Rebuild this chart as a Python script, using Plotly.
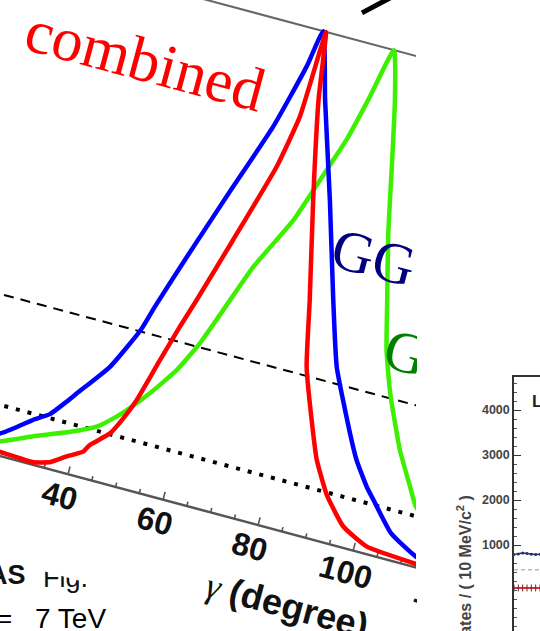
import numpy as np
import plotly.graph_objects as go

W, H = 540, 631

# ---------------- data: 1-CL scans vs gamma (degree) ----------------
gamma_blue = [18, 24.5, 30.3, 33.3, 35.9, 37.5, 42.6, 46.7, 48.3, 51.9, 57.3, 62.0, 65.4, 66.8,
              70.8, 77.0, 82.9, 87.1, 93.2, 95.9, 99.3, 101.3, 106.5, 112.7, 120, 135]
cl_blue = [0.030, 0.044, 0.088, 0.108, 0.141, 0.163, 0.232, 0.320, 0.375, 0.487, 0.649, 0.787, 0.922, 1.0,
           0.866, 0.673, 0.480, 0.351, 0.228, 0.179, 0.132, 0.110, 0.054, 0.021, 0.010, 0.005]

gamma_red = [18, 25.5, 29.5, 32.5, 36.0, 38.8, 41.8, 42.7, 46.1, 48.0, 49.6, 52.05, 54.2, 56.1, 60.1,
             64.8, 66.7, 67.2, 67.4, 69.5, 73.7, 78.3, 81.2, 86.0, 88.1, 91.9, 96.8, 102.5, 113.0, 125]
cl_red = [0.012, 0.008, 0.006, 0.005, 0.015, 0.034, 0.052, 0.068, 0.102, 0.140, 0.181, 0.271, 0.347, 0.408, 0.545,
          0.711, 0.820, 0.961, 1.0, 0.863, 0.665, 0.467, 0.335, 0.208, 0.158, 0.095, 0.042, 0.015, 0.007, 0.003]

gamma_green = [18, 24.9, 31.2, 38.2, 43.4, 46.5, 48.2, 51.8, 55.9, 59.0, 61.4, 65.5, 70.9, 74.0, 77.1, 79.4,
               81.7, 84.5, 87.4, 90.2, 93.5, 96.0, 99.0, 103.9, 107.8, 110.0, 115, 120, 130]
cl_green = [0.022, 0.029, 0.056, 0.084, 0.110, 0.138, 0.156, 0.201, 0.261, 0.325, 0.390, 0.503, 0.615, 0.707,
            0.800, 0.896, 1.0, 0.903, 0.771, 0.639, 0.508, 0.410, 0.327, 0.221, 0.155, 0.119, 0.080, 0.055, 0.030]

cl_1sigma = 0.317      # dashed reference line
cl_dotted = 0.10       # dotted reference line
gamma_span = [-20, 150]

major_ticks = [20, 40, 60, 80, 100, 120, 140]
minor_ticks = [g for g in range(5, 145, 5) if g % 20 != 0]
tick_labels = ["40", "60", "80", "100"]

arrow_g = [73.45, 78.5]     # fragment of a thick arrow above the frame
arrow_v = [1.056, 1.103]

# ---------------- data: right panel (mass fit fragment) ----------------
mass = [5000, 5005, 5010, 5015, 5020, 5025, 5030]
cand_data = [790, 800, 820, 810, 795, 790, 795]
cand_comb = [450, 450, 455, 450, 448, 450, 452]
cand_red = [45, 45, 46, 45, 45, 46, 45]
panel_ticks = [1000, 2000, 3000, 4000]

# ---------------- rotated frame geometry ----------------
THETA = np.deg2rad(15.0)
C, S = np.cos(THETA), np.sin(THETA)
ORX, ORY = 68.0, 474.2        # screen pixel of (gamma=40, 1-CL=0)
PX_DEG = 4.92
PX_UNIT = 494.0
CLIP_X = 416.0


def to_screen(g, v):
    g = np.asarray(g, dtype=float)
    v = np.asarray(v, dtype=float)
    a = (g - 40.0) * PX_DEG
    h = v * PX_UNIT
    return ORX + a * C + h * S, ORY + a * S - h * C


fig = go.Figure()


def add_line(g, v, color, width, dash=None, shape="linear"):
    X, Y = to_screen(g, v)
    fig.add_trace(go.Scatter(x=X, y=Y, mode="lines", xaxis="x", yaxis="y",
                             line=dict(color=color, width=width, dash=dash, shape=shape,
                                       smoothing=0.45 if shape == "spline" else None),
                             hoverinfo="skip", showlegend=False))


# frame lines
add_line(gamma_span, [0, 0], "#555555", 2.5)
add_line(gamma_span, [1.0, 1.0], "#666666", 2.0)

# tick marks (pointing into the frame)
def tick_trace(vals, length):
    xs, ys = [], []
    for g in vals:
        X, Y = to_screen([g, g], [0, length / PX_UNIT])
        xs += list(X) + [None]
        ys += list(Y) + [None]
    fig.add_trace(go.Scatter(x=xs, y=ys, mode="lines", xaxis="x", yaxis="y",
                             line=dict(color="#555555", width=1.6),
                             hoverinfo="skip", showlegend=False))

tick_trace(major_ticks, 8)
tick_trace(minor_ticks, 4.5)

# reference lines
add_line(gamma_span, [cl_1sigma] * 2, "black", 2, dash="10px,7px")
add_line(gamma_span, [cl_dotted] * 2, "black", 4, dash="4px,8px")

# curves
add_line(gamma_green, cl_green, "#3cf000", 4.5, shape="spline")
add_line(gamma_blue, cl_blue, "#0000ff", 4.5, shape="spline")
add_line(gamma_red, cl_red, "#ff0000", 4.5, shape="spline")

# arrow fragment
add_line(arrow_g, arrow_v, "black", 5)

# right panel traces
fig.add_trace(go.Scatter(x=mass, y=cand_comb, mode="lines", xaxis="x2", yaxis="y2",
                         line=dict(color="#cdb99a", width=1.5, dash="4px,3px"),
                         hoverinfo="skip", showlegend=False))
fig.add_trace(go.Scatter(x=mass, y=cand_red, mode="lines+markers", xaxis="x2", yaxis="y2",
                         line=dict(color="#c02020", width=1.8),
                         marker=dict(symbol="line-ns", size=5, line=dict(color="#802020", width=1)),
                         hoverinfo="skip", showlegend=False))
fig.add_trace(go.Scatter(x=mass, y=cand_data, mode="lines+markers", xaxis="x2", yaxis="y2",
                         line=dict(color="#26306e", width=1.5),
                         marker=dict(color="#26306e", size=3),
                         hoverinfo="skip", showlegend=False))


# ---------------- annotations ----------------
def ann(X, Y, text, size, color="#111111", family="Liberation Sans", angle=0,
        xanchor="center", yanchor="middle", **kw):
    d = dict(xref="paper", yref="paper", x=float(X) / W, y=1 - float(Y) / H, text=text,
             showarrow=False, textangle=angle, xanchor=xanchor, yanchor=yanchor,
             font=dict(size=size, color=color, family=family))
    d.update(kw)
    return d


def mask(X0, Y0, w, h, angle=0, xanchor="left", yanchor="top"):
    return dict(xref="paper", yref="paper", x=X0 / W, y=1 - Y0 / H, text="\u00a0",
                showarrow=False, width=w, height=h, bgcolor="#ffffff", borderpad=0,
                borderwidth=0, textangle=angle, xanchor=xanchor, yanchor=yanchor,
                font=dict(size=4))


annotations = []
# tick labels
for lab in tick_labels:
    X, Y = to_screen(float(lab) - 0.4, -0.046)
    annotations.append(ann(X, Y, "<b>%s</b>" % lab, 32, angle=15))
X1, Y1 = to_screen(116.0, -0.046)
annotations.append(ann(X1, Y1, "<b>1</b>", 32, angle=15))

# axis title
XT, YT = to_screen(90.0, -0.142)
annotations.append(ann(XT, YT,
                       '<span style="font-family:Liberation Serif"><i>γ</i></span> <b>(degree)</b>',
                       36, angle=15))

# curve labels
annotations.append(ann(145, 60, "combined", 62, color="#ff0000", family="Liberation Serif", angle=15))
annotations.append(ann(374, 257, "GG", 58, color="#00007f", family="Liberation Serif", angle=15))
annotations.append(ann(406, 352, "G", 58, color="#007f00", family="Liberation Serif", angle=15))

# slide text behind the picture
annotations.append(ann(28, 575, "<b>AS</b>", 27, xanchor="right"))
annotations.append(ann(41, 578, "Fig.", 27, xanchor="left"))
annotations.append(ann(14, 618, "=", 26, xanchor="right", color="#000000"))
annotations.append(ann(108, 618, "7 TeV", 28, xanchor="right", color="#000000"))

# white masks: edge of the rotated picture
annotations.append(mask(CLIP_X + 0.5, 0, W - CLIP_X, 370))
annotations.append(mask(CLIP_X + 0.5, 370, 452 - CLIP_X, H - 370))
annotations.append(mask(93, 571.5, 120, 24, angle=15, xanchor="center", yanchor="middle"))

# right panel texts
annotations.append(ann(464, 493, "<b>Candidates / ( 10 MeV/c<sup>2</sup> )</b>", 16,
                       color="#444444", angle=-90, yanchor="top"))
annotations.append(ann(530, 401, "<b>LHCb</b>", 17, color="#222222", xanchor="left"))

fig.update_layout(
    width=W, height=H, margin=dict(l=0, r=0, t=0, b=0, pad=0),
    paper_bgcolor="white", plot_bgcolor="rgba(0,0,0,0)", showlegend=False,
    xaxis=dict(domain=[0, CLIP_X / W], range=[0, CLIP_X], visible=False, fixedrange=True),
    yaxis=dict(domain=[0, 1], range=[H, 0], visible=False, fixedrange=True),
    xaxis2=dict(domain=[514 / W, 1], range=[5000, 5030], anchor="y2", side="top",
                showline=True, linecolor="#333333", linewidth=1.5, ticks="",
                showticklabels=False, showgrid=False, zeroline=False, fixedrange=True),
    yaxis2=dict(domain=[0, 1 - 376.7 / H], range=[-911, 4740], anchor="x2",
                showline=True, linecolor="#333333", linewidth=1.5,
                ticks="inside", ticklen=7, tickcolor="#333333", tickwidth=1,
                tickvals=panel_ticks, ticktext=["<b>%d</b>" % t for t in panel_ticks],
                tickfont=dict(size=12.5, color="#444444", family="Liberation Sans"),
                minor=dict(dtick=200, ticks="inside", ticklen=3.5, tickcolor="#555555"),
                showgrid=False, zeroline=False, fixedrange=True),
    annotations=annotations,
)

fig.write_html("out.html", config=dict(displayModeBar=False))
